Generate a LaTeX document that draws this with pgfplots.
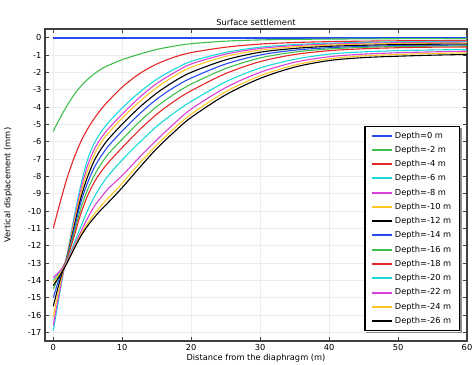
\documentclass[border=0pt]{standalone}
\usepackage{fontspec}
\setmainfont{DejaVu Sans}
\usepackage{pgfplots}
\usepackage{pgfplotstable}
\pgfplotsset{compat=1.18}

\definecolor{cBlue}{rgb}{0.15,0.3,0.95}
\definecolor{cGreen}{rgb}{0.25,0.75,0.3}
\definecolor{cRed}{rgb}{0.9,0.15,0.15}
\definecolor{cCyan}{rgb}{0.1,0.85,0.85}
\definecolor{cMag}{rgb}{0.85,0.25,0.85}
\definecolor{cYel}{rgb}{1,0.78,0.15}
\definecolor{cBlk}{rgb}{0,0,0}

\pgfplotstableread{
x    d0  d2     d4     d6     d8     d10    d12    d14    d16    d18    d20    d22    d24    d26
0    0   -5.4   -11.0  -16.9  -16.6  -16.1  -15.5  -15.0  -14.5  -14.1  -14.0  -13.85 -14.1  -14.3
0.5  0   -5.0   -10.24 -15.75 -15.5  -15.1  -14.7  -14.35 -14.05 -13.8  -13.75 -13.65 -13.85 -14.0
1    0   -4.62  -9.5   -14.6  -14.45 -14.2  -13.95 -13.75 -13.6  -13.5  -13.5  -13.45 -13.6  -13.7
1.5  0   -4.26  -8.78  -13.5  -13.45 -13.35 -13.3  -13.2  -13.15 -13.15 -13.2  -13.2  -13.3  -13.35
2    0   -3.92  -8.1   -12.55 -12.6  -12.6  -12.65 -12.65 -12.7  -12.75 -12.85 -12.9  -12.95 -13.0
3    0   -3.3   -6.95  -10.4  -10.6  -10.75 -10.95 -11.1  -11.3  -11.5  -11.9  -12.05 -12.15 -12.2
4    0   -2.8   -6.0   -8.5   -8.75  -9.0   -9.25  -9.5   -9.85  -10.15 -10.9  -11.2  -11.35 -11.45
5    0   -2.4   -5.25  -7.0   -7.35  -7.65  -8.0   -8.35  -8.75  -9.1   -9.95  -10.4  -10.7  -10.85
6    0   -2.07  -4.63  -6.05  -6.4   -6.7   -7.05  -7.45  -7.9   -8.3   -9.15  -9.7   -10.15 -10.35
7    0   -1.8   -4.1   -5.4   -5.75  -6.02  -6.38  -6.8   -7.25  -7.7   -8.5   -9.18  -9.68  -9.9
8    0   -1.6   -3.65  -4.9   -5.25  -5.5   -5.85  -6.25  -6.7   -7.2   -7.95  -8.7   -9.25  -9.5
10   0   -1.27  -2.85  -4.05  -4.41  -4.64  -4.99  -5.38  -5.86  -6.34  -7.05  -7.95  -8.4   -8.65
12.5 0   -0.95  -2.08  -3.15  -3.45  -3.7   -4.02  -4.4   -4.85  -5.32  -6.05  -6.9   -7.25  -7.5
15   0   -0.68  -1.52  -2.4   -2.65  -2.88  -3.2   -3.55  -3.98  -4.42  -5.12  -5.9   -6.2   -6.4
17.5 0   -0.49  -1.13  -1.83  -2.03  -2.23  -2.53  -2.87  -3.27  -3.68  -4.35  -4.97  -5.25  -5.45
20   0   -0.35  -0.86  -1.37  -1.52  -1.71  -2.0   -2.33  -2.68  -3.06  -3.68  -4.12  -4.41  -4.6
25   0   -0.2   -0.55  -0.85  -0.95  -1.08  -1.28  -1.52  -1.78  -2.07  -2.55  -2.88  -3.12  -3.3
30   0   -0.13  -0.37  -0.55  -0.62  -0.72  -0.84  -1.0   -1.17  -1.38  -1.75  -2.0   -2.2   -2.35
35   0   -0.1   -0.28  -0.4   -0.46  -0.53  -0.62  -0.72  -0.83  -0.97  -1.25  -1.42  -1.58  -1.7
40   0   -0.08  -0.23  -0.32  -0.37  -0.43  -0.5   -0.58  -0.65  -0.75  -0.95  -1.1   -1.22  -1.32
45   0   -0.07  -0.2   -0.27  -0.32  -0.37  -0.44  -0.5   -0.56  -0.64  -0.82  -0.95  -1.05  -1.15
50   0   -0.06  -0.18  -0.24  -0.29  -0.34  -0.4   -0.46  -0.51  -0.58  -0.75  -0.87  -0.97  -1.07
55   0   -0.055 -0.17  -0.22  -0.27  -0.32  -0.38  -0.44  -0.49  -0.55  -0.71  -0.82  -0.91  -1.01
60   0   -0.05  -0.16  -0.21  -0.26  -0.31  -0.37  -0.43  -0.48  -0.54  -0.68  -0.78  -0.88  -0.97
}\settle

\begin{document}
\begin{tikzpicture}
\begin{axis}[
  scale only axis, width=422bp, height=312bp,
  xmin=-1.2, xmax=60, ymin=-17.5, ymax=0.5,
  xtick={0,10,...,60}, ytick={-17,-16,...,0},
  tick align=inside, xtick pos=both, ytick pos=both,
  major tick length=4bp,
  grid=major, grid style={gray!15, line width=0.6pt},
  axis line style={black!75, line width=1.2pt},
  every tick/.style={black!75, line width=0.6pt},
  font=\fontsize{8.3}{10}\selectfont,
  /pgf/number format/assume math mode=true,
  title={Surface settlement},
  title style={yshift=-6bp},
  xlabel={Distance from the diaphragm (m)},
  ylabel={Vertical displacement (mm)},
  xlabel style={yshift=3bp},
  ylabel style={yshift=9bp},
  every axis plot/.append style={line width=1.1pt, smooth, tension=0.5},
  legend cell align=left,
  legend style={name=leg, at={(0.983,0.032)}, anchor=south east, draw=black, line width=1.2pt,
    fill=white, font=\fontsize{8.3}{10}\selectfont, row sep=2.5bp,
    inner xsep=6bp, inner ysep=3.5bp},
  legend image code/.code={\draw[#1, line width=2bp] (0bp,0bp) -- (20bp,0bp);},
]
\addplot[cBlue, line width=2bp]  table[x=x,y=d0]  {\settle}; \addlegendentry{Depth=0 m}
\addplot[cGreen] table[x=x,y=d2]  {\settle}; \addlegendentry{Depth=-2 m}
\addplot[cRed]   table[x=x,y=d4]  {\settle}; \addlegendentry{Depth=-4 m}
\addplot[cCyan]  table[x=x,y=d6]  {\settle}; \addlegendentry{Depth=-6 m}
\addplot[cMag]   table[x=x,y=d8]  {\settle}; \addlegendentry{Depth=-8 m}
\addplot[cYel]   table[x=x,y=d10] {\settle}; \addlegendentry{Depth=-10 m}
\addplot[cBlk]   table[x=x,y=d12] {\settle}; \addlegendentry{Depth=-12 m}
\addplot[cBlue]  table[x=x,y=d14] {\settle}; \addlegendentry{Depth=-14 m}
\addplot[cGreen] table[x=x,y=d16] {\settle}; \addlegendentry{Depth=-16 m}
\addplot[cRed]   table[x=x,y=d18] {\settle}; \addlegendentry{Depth=-18 m}
\addplot[cCyan]  table[x=x,y=d20] {\settle}; \addlegendentry{Depth=-20 m}
\addplot[cMag]   table[x=x,y=d22] {\settle}; \addlegendentry{Depth=-22 m}
\addplot[cYel]   table[x=x,y=d24] {\settle}; \addlegendentry{Depth=-24 m}
\addplot[cBlk]   table[x=x,y=d26] {\settle}; \addlegendentry{Depth=-26 m}
\end{axis}
\fill[black!45] ([xshift=0.6bp,yshift=-0.6bp]leg.south west) ++(1.5bp,0) rectangle ([xshift=2.4bp,yshift=-2.4bp]leg.south east);
\fill[black!45] ([xshift=0.6bp,yshift=-0.6bp]leg.north east) ++(0,-1.5bp) rectangle ([xshift=2.4bp,yshift=-2.4bp]leg.south east);
\pgfresetboundingbox
\path ([xshift=-45bp,yshift=-24bp]current axis.south west) rectangle ([xshift=9bp,yshift=29bp]current axis.north east);
\end{tikzpicture}
\end{document}
